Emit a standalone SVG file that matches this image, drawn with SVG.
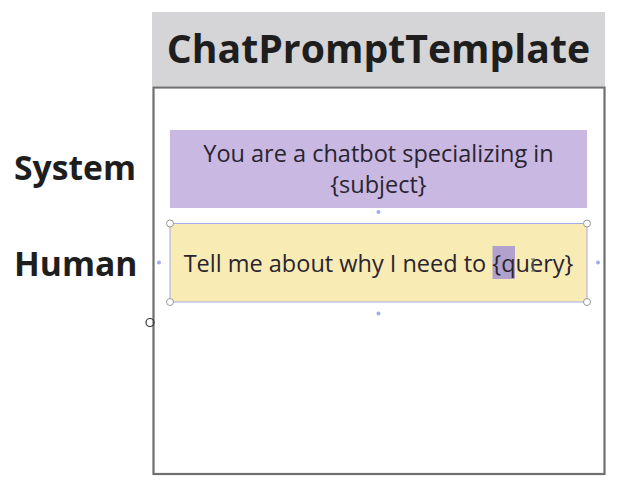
<svg xmlns="http://www.w3.org/2000/svg" width="629" height="495" viewBox="0 0 629 495">
<style>
.lbl{font-family:"Open Sans","Noto Sans",sans-serif;font-weight:700;fill:#1e1e1e}
.body{font-family:"Open Sans","Noto Sans",sans-serif;font-size:23.5px;fill:#2a2430;text-anchor:middle}
.handle{fill:#ffffff;stroke:#9a9a9a;stroke-width:1}
.dot{fill:#a4aaeb}
</style>
<rect width="629" height="495" fill="#ffffff"/>
<g id="template">
<rect x="152" y="12" width="453" height="74" fill="#d5d4d6"/>
<text class="lbl" x="378.5" y="63" font-size="39.2" text-anchor="middle">ChatPromptTemplate</text>
<rect x="153.5" y="87.5" width="451" height="386.5" fill="#ffffff" stroke="#6f6f6f" stroke-width="2.2"/>
</g>
<g id="system-label"><text class="lbl" x="14" y="180" font-size="33.7">System</text></g>
<g id="human-label"><text class="lbl" x="14" y="276" font-size="33.7">Human</text></g>
<g id="system">
<rect x="170" y="130" width="417" height="78" fill="#c8b8e2"/>
<text class="body" x="378.5" y="162">You are a chatbot specializing in</text>
<text class="body" x="378.5" y="193">{subject}</text>
</g>
<g id="human">
<rect x="170" y="223.5" width="417" height="78.5" fill="#f9ebb4" stroke="#a4aaeb" stroke-width="1"/>
<rect x="492.5" y="246" width="22.5" height="33" fill="#b0a2cc"/>
<text class="body" x="378.5" y="272">Tell me about why I need to {query}</text>
<path d="M531 259h4M533 259v12M531 271h4" stroke="#666" stroke-width="1" fill="none"/>
</g>
<g id="selection">
<circle class="handle" cx="170" cy="223.5" r="3.5"/>
<circle class="handle" cx="587" cy="223.5" r="3.5"/>
<circle class="handle" cx="170" cy="302" r="3.5"/>
<circle class="handle" cx="587" cy="302" r="3.5"/>
<circle class="dot" cx="378.5" cy="212" r="2"/>
<circle class="dot" cx="378.5" cy="313.5" r="2"/>
<circle class="dot" cx="159" cy="262.5" r="2"/>
<circle class="dot" cx="598" cy="262.5" r="2"/>
<circle cx="150" cy="322.5" r="4" fill="none" stroke="#333" stroke-width="1.2"/>
</g>
</svg>
